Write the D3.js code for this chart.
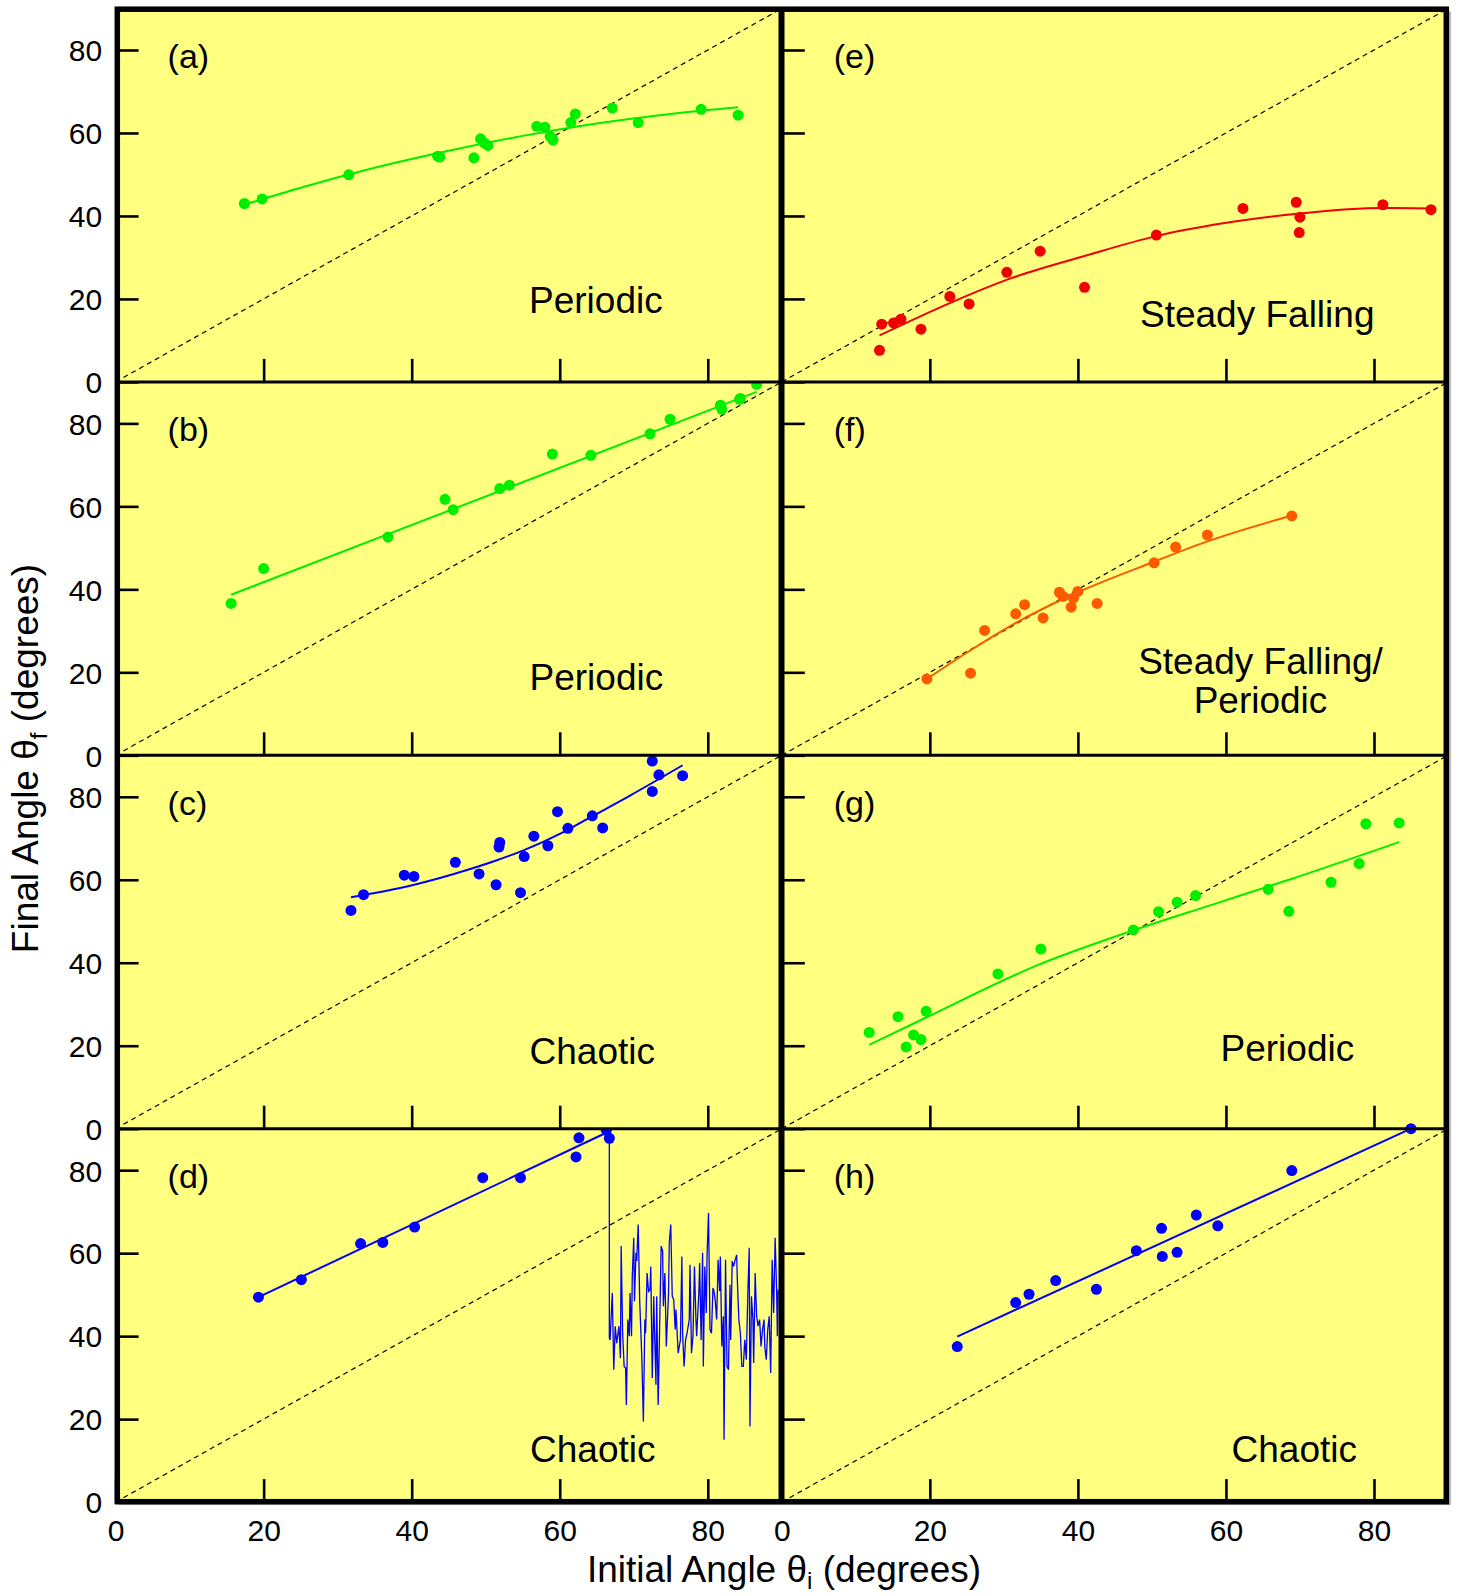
<!DOCTYPE html>
<html>
<head>
<meta charset="utf-8">
<script src="https://cdn.jsdelivr.net/npm/d3@7"></script>
<style>
  html, body { margin: 0; padding: 0; background: #ffffff; }
  svg { display: block; }
  text { font-family: "Liberation Sans", Arial, Helvetica, sans-serif; fill: #000; }
</style>
</head>
<body>
<svg id="chart" width="1461" height="1596"></svg>
<script>
// ---------------- data: initial angle (x) vs final angle (y), degrees ----------------
const panelTags = ["(a)", "(b)", "(c)", "(d)", "(e)", "(f)", "(g)", "(h)"];
const regimeText = [["Periodic"], ["Periodic"], ["Chaotic"], ["Chaotic"],
                    ["Steady Falling"], ["Steady Falling/", "Periodic"], ["Periodic"], ["Chaotic"]];
const yTickValues = [0, 20, 40, 60, 80];
const xTickValues = [0, 20, 40, 60, 80];

// (a) periodic
const aX = [17.4, 19.8, 31.5, 43.5, 43.8, 48.4, 49.3, 49.8, 50.3, 56.9, 58.0, 58.7, 59.1, 61.5, 62.1, 67.1, 70.6, 79.1, 84.1];
const aY = [43.0, 44.1, 49.9, 54.4, 54.2, 54.0, 58.6, 57.6, 57.0, 61.6, 61.4, 59.2, 58.3, 62.5, 64.6, 66.0, 62.5, 65.7, 64.3];
const aFitX = [17.4, 25, 35, 45, 55, 65, 75, 84.1];
const aFitY = [42.7, 46.8, 51.6, 55.7, 59.3, 62.3, 64.6, 66.2];

// (b) periodic
const bX = [15.6, 20.0, 36.8, 44.5, 45.6, 51.9, 53.2, 59.0, 64.2, 72.2, 74.9, 81.7, 81.9, 84.3, 84.4, 86.6];
const bY = [36.6, 45.0, 52.6, 61.7, 59.2, 64.3, 65.1, 72.6, 72.3, 77.5, 81.0, 84.4, 83.4, 85.8, 86.0, 89.4];
const bFitX = [15.6, 86.6];
const bFitY = [38.7, 87.6];

// (c) chaotic
const cX = [31.8, 33.5, 39.0, 40.3, 45.9, 49.1, 51.4, 51.9, 51.8, 54.7, 55.2, 56.5, 58.4, 59.7, 61.1, 64.4, 65.8, 72.5, 73.4, 72.5, 76.6];
const cY = [52.6, 56.4, 61.1, 60.8, 64.2, 61.4, 58.8, 69.0, 67.9, 56.9, 65.6, 70.5, 68.2, 76.4, 72.4, 75.4, 72.5, 88.6, 85.3, 81.3, 85.1];
const cFitX = [31.8, 38.9, 45.7, 51.5, 55.1, 60.5, 65.0, 69.5, 76.6];
const cFitY = [55.8, 58.2, 61.4, 64.7, 67.1, 71.5, 75.9, 80.3, 87.6];

// (d) chaotic: measured points, fit, then the sampled trace past the jump
const dX = [19.3, 25.1, 33.1, 36.1, 40.4, 49.6, 54.7, 62.2, 62.6, 66.3, 66.7];
const dY = [49.4, 53.6, 62.3, 62.6, 66.3, 78.2, 78.2, 83.2, 87.8, 89.6, 87.7];
const dFitX = [19.3, 66.5];
const dFitY = [49.4, 89.2];
const dTraceX = [66.7, 66.7, 66.8, 67.1, 67.3, 67.5, 67.7, 68.0, 68.2, 68.3, 68.5, 68.7, 68.9, 69.0, 69.2, 69.4, 69.5, 69.7, 69.8, 70.0,
  70.1, 70.3, 70.4, 70.6, 70.8, 71.1, 71.3, 71.5, 71.6, 71.8, 72.0, 72.2, 72.3, 72.5, 72.7, 72.8, 73.0, 73.1, 73.3, 73.5,
  73.7, 73.9, 74.0, 74.2, 74.4, 74.7, 74.8, 75.0, 75.2, 75.4, 75.6, 75.7, 76.0, 76.3, 76.5, 76.6, 76.8, 77.0, 77.2, 77.5,
  77.6, 77.8, 78.0, 78.2, 78.4, 78.5, 78.8, 78.9, 79.1, 79.3, 79.4, 79.6, 79.8, 79.9, 80.1, 80.3, 80.5, 80.7, 80.8, 81.0,
  81.2, 81.4, 81.6, 81.7, 81.9, 82.1, 82.2, 82.4, 82.6, 82.8, 83.0, 83.1, 83.3, 83.5, 83.7, 83.9, 84.0, 84.2, 84.4, 84.6,
  84.8, 85.0, 85.2, 85.4, 85.6, 85.7, 85.9, 86.1, 86.2, 86.4, 86.6, 86.8, 87.0, 87.2, 87.4, 87.6, 87.7, 87.9, 88.1, 88.3,
  88.5, 88.7, 88.9, 89.1, 89.3, 89.4, 89.5];
const dTraceY = [89.2, 39.5, 39.1, 50.4, 31.9, 42.4, 38.3, 42.4, 34.7, 61.7, 40.7, 32.7, 32.3, 23.4, 44.0, 40.0, 50.4, 40.0, 54.4, 63.7,
  48.4, 60.1, 58.1, 66.9, 48.8, 34.3, 19.4, 44.0, 40.7, 55.2, 50.8, 51.2, 56.8, 29.9, 49.6, 41.6, 28.3, 49.6, 23.4, 42.4,
  61.7, 60.5, 47.2, 55.2, 37.5, 50.4, 62.5, 66.9, 49.6, 48.8, 41.6, 46.4, 35.9, 39.1, 59.2, 40.7, 32.7, 39.1, 40.7, 44.0,
  57.2, 35.9, 40.0, 56.8, 44.0, 40.0, 50.8, 57.6, 39.1, 60.1, 32.7, 56.8, 45.6, 59.2, 69.7, 41.6, 40.7, 51.6, 51.2, 48.8,
  44.0, 58.4, 50.8, 59.2, 37.5, 44.8, 15.0, 58.4, 32.7, 31.9, 52.4, 39.1, 58.1, 56.8, 58.4, 59.6, 53.2, 44.0, 40.7, 32.7,
  32.7, 39.1, 34.3, 49.6, 61.3, 18.2, 49.6, 44.0, 33.5, 55.2, 44.8, 42.4, 44.0, 37.5, 41.6, 44.0, 37.5, 34.3, 41.6, 44.8,
  31.1, 58.4, 45.6, 63.7, 51.2, 40.0, 51.2];

// (e) steady falling
const eX = [13.2, 13.5, 15.1, 16.1, 18.8, 22.7, 25.3, 30.4, 34.9, 40.9, 50.6, 62.3, 69.5, 70.0, 69.9, 81.2, 87.7];
const eY = [7.6, 13.9, 14.2, 15.1, 12.7, 20.6, 18.8, 26.4, 31.5, 22.8, 35.4, 41.8, 43.3, 39.7, 36.0, 42.7, 41.5];
const eFitX = [13.2, 22.7, 31.0, 41.0, 50.7, 61.4, 70.0, 81.2, 87.7];
const eFitY = [11.2, 19.0, 25.0, 30.4, 35.2, 38.7, 40.6, 41.9, 41.8];

// (f) steady falling / periodic
const fX = [19.6, 25.5, 27.4, 31.6, 32.8, 35.3, 37.5, 38.0, 39.1, 39.4, 40.0, 42.6, 50.3, 53.2, 57.5, 68.9];
const fY = [18.4, 19.8, 30.1, 34.1, 36.3, 33.1, 39.3, 38.3, 35.7, 37.9, 39.5, 36.6, 46.4, 50.2, 53.1, 57.7];
const fFitX = [19.6, 25.4, 31.8, 38.5, 50.2, 57.4, 68.9];
const fFitY = [18.4, 25.2, 32.1, 38.1, 46.6, 51.5, 57.8];

// (g) periodic
const gX = [11.8, 15.7, 16.8, 17.8, 18.8, 19.5, 29.2, 35.0, 47.5, 50.9, 53.4, 55.9, 65.7, 68.5, 74.2, 78.0, 78.9, 83.4];
const gY = [23.2, 27.0, 19.7, 22.6, 21.5, 28.3, 37.3, 43.3, 47.9, 52.3, 54.6, 56.2, 57.7, 52.4, 59.4, 63.9, 73.5, 73.7];
const gFitX = [11.8, 19.5, 34.4, 47.5, 58.5, 68.5, 83.4];
const gFitY = [20.2, 26.8, 39.3, 47.8, 54.2, 60.0, 69.1];

// (h) chaotic
const hX = [23.7, 31.6, 33.4, 37.0, 42.5, 47.9, 51.3, 51.4, 53.4, 56.0, 58.9, 68.9, 85.0];
const hY = [37.5, 48.1, 50.1, 53.4, 51.3, 60.6, 66.0, 59.2, 60.2, 69.2, 66.6, 79.9, 90.0];
const hFitX = [23.7, 85.0];
const hFitY = [39.9, 90.0];

// ---------------- layout ----------------
const colRange = [[115.6, 781.8], [781.8, 1448]];
const gridTop = 8.5, rowH = 373.4;
const GREEN = "#00ee00", RED = "#f00000", ORANGE = "#ff5a00", BLUE = "#0000ff", PANEL_BG = "#ffff80";
const FONT_TICK = 30, FONT_TAG = 34, FONT_REGIME = 37, FONT_TITLE = 37;
const DOT_R = 5.5;

const zip = (xs, ys) => xs.map((v, i) => [v, ys[i]]);

const panels = [
  { col: 0, row: 0, pts: zip(aX, aY), fit: zip(aFitX, aFitY), color: GREEN, smooth: true, clip: true },
  { col: 0, row: 1, pts: zip(bX, bY), fit: zip(bFitX, bFitY), color: GREEN, smooth: false, clip: true },
  { col: 0, row: 2, pts: zip(cX, cY), fit: zip(cFitX, cFitY), color: BLUE, smooth: true, clip: true },
  { col: 0, row: 3, pts: zip(dX, dY), fit: zip(dFitX, dFitY), trace: zip(dTraceX, dTraceY), color: BLUE, smooth: false, clip: true },
  { col: 1, row: 0, pts: zip(eX, eY), fit: zip(eFitX, eFitY), color: RED, smooth: true, clip: true },
  { col: 1, row: 1, pts: zip(fX, fY), fit: zip(fFitX, fFitY), color: ORANGE, smooth: true, clip: true },
  { col: 1, row: 2, pts: zip(gX, gY), fit: zip(gFitX, gFitY), color: GREEN, smooth: true, clip: true },
  { col: 1, row: 3, pts: zip(hX, hY), fit: zip(hFitX, hFitY), color: BLUE, smooth: false, clip: false }
];

// regime caption placement: [x, first baseline, anchor]
const regimePos = [
  [529, 313.3, "start"], [529.5, 690, "start"], [529.5, 1064, "start"], [530, 1461.7, "start"],
  [1140, 326.7, "start"], [1260.5, 674, "middle"], [1220.5, 1060.8, "start"], [1231.5, 1461.7, "start"]
];

const svg = d3.select("#chart");
const gridLeft = colRange[0][0], gridRight = colRange[1][1];
const gridBottom = gridTop + 4 * rowH;

// soft shadow and panel background
svg.append("rect").attr("x", gridLeft + 3).attr("y", gridTop + 3)
  .attr("width", gridRight - gridLeft).attr("height", gridBottom - gridTop).attr("fill", "#b8b8b8");
svg.append("rect").attr("x", gridLeft).attr("y", gridTop)
  .attr("width", gridRight - gridLeft).attr("height", gridBottom - gridTop).attr("fill", PANEL_BG);

const defs = svg.append("defs");

panels.forEach((p, i) => {
  const x = d3.scaleLinear().domain([0, 90]).range(colRange[p.col]);
  const top = gridTop + p.row * rowH;
  const y = d3.scaleLinear().domain([0, 90]).range([top + rowH, top]);

  const clipId = "clip" + i;
  defs.append("clipPath").attr("id", clipId).append("rect")
    .attr("x", x(0)).attr("y", top).attr("width", x(90) - x(0)).attr("height", rowH);

  const g = svg.append("g");
  if (p.clip) g.attr("clip-path", `url(#${clipId})`);

  // identity line θf = θi
  g.append("line")
    .attr("x1", x(0)).attr("y1", y(0)).attr("x2", x(90)).attr("y2", y(90))
    .attr("stroke", "#000").attr("stroke-width", 1.2).attr("stroke-dasharray", "5,4");

  const line = d3.line().x(d => x(d[0])).y(d => y(d[1]))
    .curve(p.smooth ? d3.curveMonotoneX : d3.curveLinear);

  g.append("path").datum(p.fit).attr("d", line)
    .attr("fill", "none").attr("stroke", p.color).attr("stroke-width", 2);

  if (p.trace) {
    g.append("path").datum(p.trace)
      .attr("d", d3.line().x(d => x(d[0])).y(d => y(d[1])))
      .attr("fill", "none").attr("stroke", p.color).attr("stroke-width", 1.3)
      .attr("stroke-linejoin", "miter");
  }

  g.selectAll("circle").data(p.pts).join("circle")
    .attr("cx", d => x(d[0])).attr("cy", d => y(d[1])).attr("r", DOT_R)
    .attr("fill", p.color);

  // y ticks (inward), labels on the left column only
  const yAxis = d3.axisLeft(y).tickValues(yTickValues).tickSizeInner(-23).tickSizeOuter(0)
    .tickPadding(13.5).tickFormat(p.col === 0 ? d3.format("d") : () => "");
  const ya = svg.append("g").attr("transform", `translate(${x(0)},0)`).call(yAxis);
  ya.select(".domain").remove();
  ya.selectAll(".tick line").attr("stroke", "#000").attr("stroke-width", 2.6);
  ya.selectAll(".tick text").attr("font-size", FONT_TICK).attr("dy", "0.36em")
    .attr("font-family", '"Liberation Sans", Arial, sans-serif');

  // x ticks (inward), labels on the bottom row only
  const xAxis = d3.axisBottom(x).tickValues(p.row === 3 ? xTickValues : xTickValues.slice(1))
    .tickSizeInner(-23).tickSizeOuter(0).tickPadding(18)
    .tickFormat(p.row === 3 ? d3.format("d") : () => "");
  const xa = svg.append("g").attr("transform", `translate(0,${y(0)})`).call(xAxis);
  xa.select(".domain").remove();
  xa.selectAll(".tick line").attr("stroke", "#000").attr("stroke-width", 2.6);
  xa.selectAll(".tick text").attr("font-size", FONT_TICK)
    .attr("font-family", '"Liberation Sans", Arial, sans-serif');

  // panel tag
  svg.append("text").attr("x", x(0) + 52).attr("y", top + 59.3)
    .attr("font-size", FONT_TAG).text(panelTags[i]);

  // regime caption
  const [rx, ry, anchor] = regimePos[i];
  const t = svg.append("text").attr("x", rx).attr("y", ry)
    .attr("font-size", FONT_REGIME).attr("text-anchor", anchor);
  regimeText[i].forEach((s, k) => {
    t.append("tspan").attr("x", rx).attr("y", ry + k * 38.5).text(s);
  });
});

// frame
svg.append("g").selectAll("line")
  .data([1, 2, 3]).join("line")
  .attr("x1", 117).attr("x2", 1446)
  .attr("y1", r => gridTop + r * rowH).attr("y2", r => gridTop + r * rowH)
  .attr("stroke", "#000").attr("stroke-width", 3);
svg.append("line").attr("x1", 781.5).attr("x2", 781.5).attr("y1", 9).attr("y2", 1502)
  .attr("stroke", "#000").attr("stroke-width", 6);
svg.append("rect").attr("x", 117.3).attr("y", 9.2).attr("width", 1329).attr("height", 1492.5)
  .attr("fill", "none").attr("stroke", "#000").attr("stroke-width", 5.5);

// axis titles
const xt = svg.append("text").attr("x", 784).attr("y", 1582)
  .attr("text-anchor", "middle").attr("font-size", FONT_TITLE);
xt.append("tspan").text("Initial Angle θ");
xt.append("tspan").attr("font-size", 24).attr("dy", 7).text("i");
xt.append("tspan").attr("dy", -7).text(" (degrees)");

const yt = svg.append("text").attr("transform", "translate(38,758.5) rotate(-90)")
  .attr("text-anchor", "middle").attr("font-size", FONT_TITLE);
yt.append("tspan").text("Final Angle θ");
yt.append("tspan").attr("font-size", 24).attr("dy", 9).text("f");
yt.append("tspan").attr("dy", -9).text(" (degrees)");
</script>
</body>
</html>
